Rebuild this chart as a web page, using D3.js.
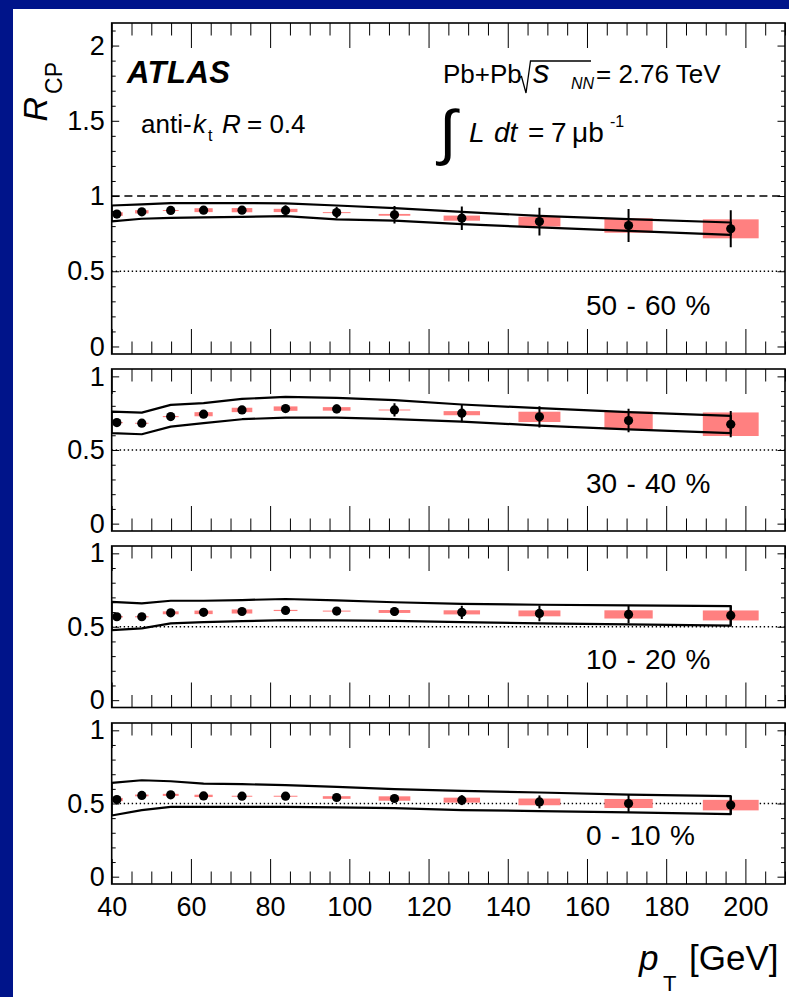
<!DOCTYPE html>
<html lang="en">
<head>
<meta charset="utf-8">
<title>RCP vs pT</title>
<script src="https://d3js.org/d3.v7.min.js"></script>
<style>
body { margin: 0; background: #00148a; }
svg { display: block; }
text { font-family: "Liberation Sans", Arial, Helvetica, sans-serif; fill: #000; }
</style>
</head>
<body>
<script>

// jet pT bin centres [GeV] and full widths of the systematic boxes
var pt       = [41.3, 47.6, 54.9, 63.2, 72.9, 83.9, 96.8, 111.4, 128.4, 148.0, 170.5, 196.3];
var boxWidth = [3.0, 3.4, 4.0, 4.6, 5.2, 6.0, 7.0, 8.0, 9.2, 10.6, 12.2, 14.1];
// nodes of the theory band outline
var bandPt   = [40, 47.6, 54.9, 63.2, 72.9, 83.9, 96.8, 111.4, 128.4, 148.0, 170.5, 196.3];

var centralities = ["50 - 60 %", "30 - 40 %", "10 - 20 %", "0 - 10 %"];

// 50 - 60 %
var rcp_50_60  = [0.880, 0.895, 0.904, 0.906, 0.906, 0.904, 0.890, 0.875, 0.853, 0.830, 0.804, 0.782];
var stat_50_60 = [0.010, 0.010, 0.012, 0.014, 0.018, 0.035, 0.038, 0.058, 0.078, 0.092, 0.110, 0.123];
var syst_50_60 = [0.012, 0.011, 0.003, 0.013, 0.014, 0.011, 0.003, 0.006, 0.017, 0.033, 0.048, 0.063];
var hi_50_60   = [0.937, 0.945, 0.953, 0.953, 0.953, 0.951, 0.937, 0.920, 0.895, 0.868, 0.846, 0.824];
var lo_50_60   = [0.831, 0.849, 0.855, 0.858, 0.862, 0.866, 0.845, 0.836, 0.813, 0.791, 0.769, 0.742];

// 30 - 40 %
var rcp_30_40  = [0.686, 0.682, 0.727, 0.743, 0.772, 0.781, 0.779, 0.772, 0.750, 0.725, 0.700, 0.675];
var stat_30_40 = [0.010, 0.010, 0.012, 0.012, 0.015, 0.020, 0.030, 0.045, 0.061, 0.072, 0.080, 0.089];
var syst_30_40 = [0.004, 0.003, 0.004, 0.014, 0.015, 0.015, 0.012, 0.003, 0.014, 0.035, 0.060, 0.080];
var hi_30_40   = [0.761, 0.754, 0.806, 0.818, 0.847, 0.861, 0.854, 0.838, 0.809, 0.784, 0.757, 0.732];
var lo_30_40   = [0.614, 0.607, 0.659, 0.682, 0.709, 0.720, 0.720, 0.710, 0.693, 0.666, 0.640, 0.614];

// 10 - 20 %
var rcp_10_20  = [0.568, 0.568, 0.595, 0.598, 0.604, 0.611, 0.607, 0.604, 0.598, 0.591, 0.584, 0.577];
var stat_10_20 = [0.008, 0.008, 0.010, 0.010, 0.010, 0.012, 0.015, 0.030, 0.045, 0.053, 0.060, 0.068];
var syst_10_20 = [0.005, 0.004, 0.010, 0.012, 0.014, 0.004, 0.003, 0.010, 0.014, 0.020, 0.028, 0.034];
var hi_10_20   = [0.670, 0.659, 0.677, 0.677, 0.682, 0.689, 0.679, 0.667, 0.656, 0.650, 0.645, 0.641];
var lo_10_20   = [0.477, 0.489, 0.523, 0.532, 0.538, 0.545, 0.543, 0.540, 0.532, 0.523, 0.516, 0.507];

// 0 - 10 %
var rcp_0_10   = [0.527, 0.555, 0.559, 0.552, 0.550, 0.550, 0.541, 0.534, 0.523, 0.511, 0.500, 0.489];
var stat_0_10  = [0.008, 0.010, 0.010, 0.010, 0.010, 0.010, 0.012, 0.020, 0.034, 0.044, 0.061, 0.063];
var syst_0_10  = [0.011, 0.006, 0.007, 0.008, 0.003, 0.003, 0.009, 0.015, 0.017, 0.023, 0.031, 0.036];
var hi_0_10    = [0.641, 0.659, 0.652, 0.636, 0.632, 0.625, 0.614, 0.598, 0.586, 0.575, 0.561, 0.550];
var lo_0_10    = [0.418, 0.455, 0.477, 0.477, 0.477, 0.477, 0.473, 0.469, 0.455, 0.448, 0.439, 0.427];

var xMajor = [40, 60, 80, 100, 120, 140, 160, 180, 200];
var xMinor = d3.range(45, 211, 5).filter(function(v) { return v % 20 !== 0; });
var yTicksTop = [0, 0.5, 1, 1.5, 2];
var yTicksLow = [0, 0.5, 1];

//Width and height
var w = 789;
var h = 997;

var left = 111.7, right = 785;

var panels = [
    {top: 23,  bottom: 354, ymax: 2.15, ticks: yTicksTop, rcp: rcp_50_60, stat: stat_50_60, syst: syst_50_60, hi: hi_50_60, lo: lo_50_60, label: centralities[0], labelY: 315, unity: true},
    {top: 369, bottom: 531, ymax: 1.05, ticks: yTicksLow, rcp: rcp_30_40, stat: stat_30_40, syst: syst_30_40, hi: hi_30_40, lo: lo_30_40, label: centralities[1], labelY: 493},
    {top: 546, bottom: 707.5, ymax: 1.05, ticks: yTicksLow, rcp: rcp_10_20, stat: stat_10_20, syst: syst_10_20, hi: hi_10_20, lo: lo_10_20, label: centralities[2], labelY: 669},
    {top: 723, bottom: 884, ymax: 1.05, ticks: yTicksLow, rcp: rcp_0_10, stat: stat_0_10, syst: syst_0_10, hi: hi_0_10, lo: lo_0_10, label: centralities[3], labelY: 845, last: true}
];

var xScale = d3.scaleLinear().domain([40, 210]).range([left, right]);

var svg = d3.select("body")
    .append("svg")
    .attr("width", w)
    .attr("height", h);

svg.append("rect").attr("width", w).attr("height", h).attr("fill", "#00148a");
svg.append("rect").attr("x", 13).attr("y", 9).attr("width", w - 13).attr("height", h - 9).attr("fill", "#fff");

function styleAxis(g) {
    g.select(".domain").remove();
    g.selectAll(".tick line").attr("stroke", "#000").attr("stroke-width", 1);
    g.selectAll("text")
        .attr("font-family", "'Liberation Sans', Arial, sans-serif")
        .attr("font-size", 27)
        .attr("fill", "#000");
    return g;
}

panels.forEach(function(p, k) {
    var yScale = d3.scaleLinear().domain([-0.05, p.ymax]).range([p.bottom, p.top]);
    var g = svg.append("g");

    var clipId = "clip" + k;
    svg.append("clipPath").attr("id", clipId)
        .append("rect")
        .attr("x", left).attr("y", p.top)
        .attr("width", right - left).attr("height", p.bottom - p.top);

    var plot = g.append("g").attr("clip-path", "url(#" + clipId + ")");

    // reference lines
    plot.append("line")
        .attr("x1", left).attr("x2", right)
        .attr("y1", yScale(0.5)).attr("y2", yScale(0.5))
        .attr("stroke", "#000").attr("stroke-width", 1.3)
        .attr("stroke-dasharray", "1.4,2.6");
    if (p.unity) {
        plot.append("line")
            .attr("x1", left).attr("x2", right)
            .attr("y1", yScale(1)).attr("y2", yScale(1))
            .attr("stroke", "#000").attr("stroke-width", 1.5)
            .attr("stroke-dasharray", "8,4.7");
    }

    var rows = pt.map(function(v, i) {
        return {pt: v, bw: boxWidth[i], v: p.rcp[i], e: p.stat[i], s: p.syst[i]};
    });

    // systematic boxes
    plot.selectAll("rect.syst")
        .data(rows)
        .enter()
        .append("rect")
        .attr("class", "syst")
        .attr("x", function(d) { return xScale(d.pt - d.bw / 2); })
        .attr("width", function(d) { return xScale(d.pt + d.bw / 2) - xScale(d.pt - d.bw / 2); })
        .attr("y", function(d) { return yScale(d.v + d.s); })
        .attr("height", function(d) { return Math.max(1, yScale(d.v - d.s) - yScale(d.v + d.s)); })
        .attr("fill", "#ff8080");

    // theory band outline
    var band = bandPt.map(function(v, i) { return [v, p.hi[i]]; })
        .concat(bandPt.map(function(v, i) { return [v, p.lo[i]]; }).reverse());
    var line = d3.line()
        .x(function(d) { return xScale(d[0]); })
        .y(function(d) { return yScale(d[1]); });
    plot.append("path")
        .attr("d", line(band) + "Z")
        .attr("fill", "none")
        .attr("stroke", "#000")
        .attr("stroke-width", 2.2)
        .attr("stroke-linejoin", "round");

    // stat error bars
    plot.selectAll("line.err")
        .data(rows)
        .enter()
        .append("line")
        .attr("class", "err")
        .attr("x1", function(d) { return xScale(d.pt); })
        .attr("x2", function(d) { return xScale(d.pt); })
        .attr("y1", function(d) { return yScale(d.v - d.e); })
        .attr("y2", function(d) { return yScale(d.v + d.e); })
        .attr("stroke", "#000")
        .attr("stroke-width", 2);

    // points
    plot.selectAll("circle")
        .data(rows)
        .enter()
        .append("circle")
        .attr("cx", function(d) { return xScale(d.pt); })
        .attr("cy", function(d) { return yScale(d.v); })
        .attr("r", 4.6)
        .attr("fill", "#000");

    // ticks
    styleAxis(g.append("g").attr("transform", "translate(0," + p.bottom + ")")
        .call(d3.axisBottom(xScale).tickValues(xMajor).tickSize(-25).tickPadding(13)
            .tickFormat(p.last ? d3.format("d") : "")));
    styleAxis(g.append("g").attr("transform", "translate(0," + p.bottom + ")")
        .call(d3.axisBottom(xScale).tickValues(xMinor).tickSize(-12.5).tickFormat("")));
    styleAxis(g.append("g").attr("transform", "translate(0," + p.top + ")")
        .call(d3.axisTop(xScale).tickValues(xMajor).tickSize(-25).tickFormat("")));
    styleAxis(g.append("g").attr("transform", "translate(0," + p.top + ")")
        .call(d3.axisTop(xScale).tickValues(xMinor).tickSize(-12.5).tickFormat("")));

    var yMinor = d3.range(0, p.ymax, 0.1).filter(function(v) {
        return Math.abs(v * 2 - Math.round(v * 2)) > 1e-6;
    });
    styleAxis(g.append("g").attr("transform", "translate(" + left + ",0)")
        .call(d3.axisLeft(yScale).tickValues(p.ticks).tickSize(-7.5).tickPadding(7)
            .tickFormat(d3.format("~g"))));
    styleAxis(g.append("g").attr("transform", "translate(" + left + ",0)")
        .call(d3.axisLeft(yScale).tickValues(yMinor).tickSize(-4).tickFormat("")));
    styleAxis(g.append("g").attr("transform", "translate(" + right + ",0)")
        .call(d3.axisRight(yScale).tickValues(p.ticks).tickSize(-7.5).tickFormat("")));
    styleAxis(g.append("g").attr("transform", "translate(" + right + ",0)")
        .call(d3.axisRight(yScale).tickValues(yMinor).tickSize(-4).tickFormat("")));

    // frame
    g.append("rect")
        .attr("x", left).attr("y", p.top)
        .attr("width", right - left).attr("height", p.bottom - p.top)
        .attr("fill", "none").attr("stroke", "#000").attr("stroke-width", 1.6);

    g.append("text")
        .attr("x", 586).attr("y", p.labelY)
        .attr("font-size", 28)
        .attr("word-spacing", 1.5)
        .text(p.label);
});

// y title
var yt = svg.append("text").attr("transform", "translate(46.5,121.5) rotate(-90)");
yt.append("tspan").attr("font-size", 34).attr("font-style", "italic").text("R");
yt.append("tspan").attr("font-size", 23).attr("dx", 3).attr("dy", 15.5).text("CP");

// x title
var xt = svg.append("text").attr("x", 639).attr("y", 970);
xt.append("tspan").attr("font-size", 35).attr("font-style", "italic").text("p");
xt.append("tspan").attr("font-size", 22).attr("x", 663).attr("dy", 21).text("T");
xt.append("tspan").attr("font-size", 35).attr("x", 689).attr("dy", -21).text("[GeV]");

// labels
svg.append("text").attr("x", 127).attr("y", 83.3)
    .attr("font-size", 31).attr("font-weight", "bold").attr("font-style", "italic")
    .attr("letter-spacing", 0.5)
    .text("ATLAS");

var ak = svg.append("text").attr("y", 133.3).attr("font-size", 26);
ak.append("tspan").attr("x", 141).text("anti-");
ak.append("tspan").attr("x", 193).attr("font-style", "italic").text("k");
ak.append("tspan").attr("x", 208).attr("dy", 8).attr("font-size", 16).text("t");
ak.append("tspan").attr("x", 222).attr("dy", -8).attr("font-style", "italic").text("R");
ak.append("tspan").attr("x", 247).text("= 0.4");

var pb = svg.append("text").attr("y", 83.3).attr("font-size", 26);
pb.append("tspan").attr("x", 443).text("Pb+Pb");
pb.append("tspan").attr("x", 533).attr("font-size", 33).attr("font-style", "italic").text("s");
pb.append("tspan").attr("x", 571).attr("dy", 6).attr("font-size", 16).attr("font-style", "italic").text("NN");
pb.append("tspan").attr("x", 596).attr("dy", -6).text("= 2.76 TeV");
svg.append("path")
    .attr("d", "M519,78 L521.5,76.5 L526,93 L530.5,61 L591,61")
    .attr("fill", "none").attr("stroke", "#000").attr("stroke-width", 1.3);

svg.append("text")
    .attr("transform", "translate(439,153) scale(1.1,1.05)")
    .attr("font-family", "'DejaVu Sans', sans-serif")
    .attr("font-size", 58)
    .text("\u222B");
var lum = svg.append("text").attr("y", 141.7).attr("font-size", 28);
lum.append("tspan").attr("x", 469).attr("font-style", "italic").text("L");
lum.append("tspan").attr("x", 494).attr("font-style", "italic").text("dt");
lum.append("tspan").attr("x", 528).text("=");
lum.append("tspan").attr("x", 551).text("7");
lum.append("tspan").attr("x", 572).text("\u03BCb");
lum.append("tspan").attr("x", 610).attr("dy", -15).attr("font-size", 16).text("-1");

</script>
</body>
</html>
